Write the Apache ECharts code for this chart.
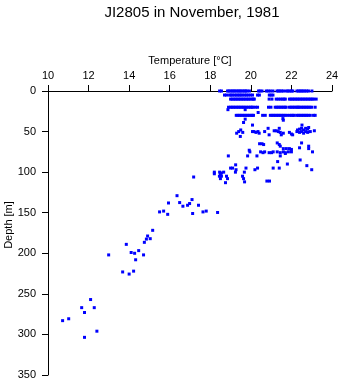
<!DOCTYPE html>
<html>
<head>
<meta charset="utf-8">
<script src="https://cdn.jsdelivr.net/npm/echarts@6/dist/echarts.min.js"></script>
<style>html,body{margin:0;padding:0;background:#fff;}#c{width:341px;height:384px;}</style>
</head>
<body>
<div id="c"></div>
<script>
const titleText = "JI2805 in November, 1981";
const xName = "Temperature [\u00B0C]";
const yName = "Depth [m]";

// standard-depth rows (depth in m) and temperatures read at each row
const rowDepths = [0, 5, 10, 20, 30];
const row0 = [18.46, 18.55, 18.85, 18.92, 19.0, 19.08, 19.15, 19.22, 19.3, 19.38, 19.45, 19.52, 19.6, 19.68, 19.75, 19.81, 19.93, 20.38, 20.45, 20.55, 20.76, 20.85, 20.96, 21.09, 21.29, 21.36, 21.44, 21.52, 21.61, 21.75, 21.83, 21.91, 22.0, 22.07, 22.27, 22.35, 22.43, 22.5, 22.58, 22.66, 22.75, 22.84, 23.01];
const row5 = [18.7, 18.8, 18.95, 19.03, 19.1, 19.2, 19.28, 19.36, 19.44, 19.52, 19.6, 19.7, 19.78, 19.87, 19.97, 20.08, 20.33, 20.42, 20.91, 21.0, 21.09];
const row10 = [19.0, 19.08, 19.16, 19.24, 19.32, 19.4, 19.48, 19.56, 19.64, 19.72, 19.8, 19.88, 19.96, 20.05, 20.12, 20.17, 20.9, 21.04, 21.25, 21.35, 21.45, 21.55, 21.63, 21.7, 21.9, 21.98, 22.06, 22.14, 22.22, 22.3, 22.38, 22.46, 22.54, 22.62, 22.7, 22.78, 22.86, 22.94, 23.02, 23.1, 23.22];
const row20 = [18.9, 19.0, 19.07, 19.15, 19.23, 19.31, 19.39, 19.47, 19.55, 19.63, 19.71, 19.8, 19.89, 19.98, 20.05, 20.1, 20.22, 20.33, 20.87, 20.99, 21.2, 21.28, 21.36, 21.44, 21.52, 21.6, 21.68, 21.74, 21.9, 21.98, 22.06, 22.14, 22.22, 22.3, 22.35, 22.43, 22.51, 22.59, 22.67, 22.75, 22.83, 22.91, 23.0, 23.17];
const row30 = [19.28, 19.36, 19.44, 19.52, 19.6, 19.68, 19.76, 19.84, 19.92, 20.0, 20.07, 20.13, 20.58, 20.71, 20.96, 21.04, 21.12, 21.2, 21.28, 21.36, 21.44, 21.52, 21.6, 21.68, 21.78, 21.9, 22.0, 22.07, 22.14, 22.27, 22.35, 22.43, 22.51, 22.59, 22.67, 22.75, 22.83, 22.93, 23.09, 23.17];
const rowTemps = [row0, row5, row10, row20, row30];

// other observations: temperature and depth
const otherTemps = [18.87, 19.72, 20.36, 19.72, 21.58, 21.6, 19.64, 20.08, 22.52,
  20.85, 21.4, 22.3, 22.4, 22.5, 22.6, 22.7, 22.8, 22.85,
  19.3, 19.4, 19.5, 19.6, 20.08, 20.15, 20.25, 20.35, 20.41, 20.68, 21.15, 21.25, 21.35, 21.45, 21.6, 21.9, 22.0, 22.27, 22.4, 22.5, 22.6, 22.7, 22.8, 22.93, 23.13,
  20.9, 21.5, 22.06, 19.48,
  20.43, 20.55, 20.63, 21.3, 21.4, 22.5, 21.45, 22.85, 22.85, 21.6, 21.75, 21.9, 22.0, 22.4, 19.92, 19.95, 20.48, 20.6, 20.68, 21.1, 21.3, 21.45, 21.6, 21.7, 21.85, 22.0, 23.04, 20.9, 21.02, 21.7,
  18.89, 19.84, 20.3, 21.45, 22.43, 21.32, 21.8, 19.25, 22.76, 19.0, 19.1, 19.76, 20.33, 21.1, 21.4, 19.27, 20.2, 23.0,
  18.2, 18.46, 18.55, 18.66, 19.24, 19.68, 18.2, 18.5, 18.45, 18.55, 18.8, 19.59, 18.5, 18.85, 19.64, 20.79, 20.92, 19.69, 18.75, 17.18,
  16.36, 15.94, 16.49, 17.1, 16.98, 16.88, 16.65, 17.42, 15.5, 15.7, 15.9, 17.13, 17.64, 17.8, 18.36,
  15.16, 14.91, 14.85, 15.04, 14.75, 13.86, 14.1, 14.27, 14.47, 14.71, 14.32, 12.99, 13.68, 14.0, 14.22,
  12.1, 11.66, 12.28, 11.8, 11.02, 10.72, 12.41, 11.8];
const otherDepths = [23, 23, 26.5, 34.7, 34, 36, 38.8, 42, 42,
  46, 46, 48, 47, 46, 48, 46, 47, 45,
  52, 50, 48, 51, 50, 50, 51, 50, 52, 50, 49, 49, 50, 51, 52, 51, 53, 50, 51, 50, 52, 50, 51, 50, 49,
  54, 54, 54, 56,
  65, 65, 66, 64, 66, 64, 68, 68, 71, 71, 71, 71, 72, 70, 73, 75, 75, 76, 75, 75, 75, 76, 75, 77, 75, 75, 75, 76, 76, 76,
  80, 80, 80, 80, 85, 87, 90, 91, 92, 95, 95, 95, 95, 95, 95, 97, 97, 97,
  100, 100, 101, 100, 100, 100, 102, 102, 105, 105, 105, 105, 108, 108, 108, 111, 111, 112, 113, 106,
  129, 138, 137.5, 133.8, 138.7, 140.8, 142, 140.8, 149, 148, 152, 151, 149, 148, 149.7,
  171.7, 178.7, 182.5, 182, 186.5, 189, 199, 200, 196.7, 202, 208, 202, 223, 225.6, 222,
  257, 267, 267, 273, 280.7, 283, 296, 303.6];

const points = [];
rowTemps.forEach((temps, i) => temps.forEach(t => points.push([t, rowDepths[i]])));
otherTemps.forEach((t, i) => points.push([t, otherDepths[i]]));

const font = "'Liberation Sans', Arial, sans-serif";
const chart = echarts.init(document.getElementById('c'));
chart.setOption({
  animation: false,
  backgroundColor: '#fff',
  title: {
    text: titleText, left: 187, top: 0, textAlign: 'center',
    textStyle: { fontFamily: font, fontSize: 15, fontWeight: 'normal', color: '#000' }
  },
  grid: { left: 48, right: 9, top: 91, bottom: 9, containLabel: false, outerBoundsMode: 'none' },
  xAxis: {
    type: 'value', position: 'top', min: 10, max: 24, interval: 2,
    name: xName, nameLocation: 'middle', nameGap: 25, nameMoveOverlap: false,
    nameTextStyle: { fontFamily: font, fontSize: 11, color: '#000' },
    axisLine: { show: true, lineStyle: { color: '#000', width: 1 } },
    axisTick: { show: true, length: 6, lineStyle: { color: '#000' } },
    axisLabel: { fontFamily: font, fontSize: 11, color: '#000', margin: 10 },
    splitLine: { show: false }
  },
  yAxis: {
    type: 'value', inverse: true, min: 0, max: 350, interval: 50,
    name: yName, nameLocation: 'middle', nameGap: 34, nameMoveOverlap: false,
    nameTextStyle: { fontFamily: font, fontSize: 11, color: '#000', padding: [0, 0, 0, 16] },
    axisLine: { show: true, lineStyle: { color: '#000', width: 1 } },
    axisTick: { show: true, length: 6, lineStyle: { color: '#000' } },
    axisLabel: { fontFamily: font, fontSize: 11, color: '#000', margin: 12 },
    splitLine: { show: false }
  },
  series: [{
    type: 'scatter', data: points, symbol: 'rect', symbolSize: 3,
    itemStyle: { color: '#0000ff', opacity: 1 },
    emphasis: { disabled: true }
  }]
});
</script>
</body>
</html>
